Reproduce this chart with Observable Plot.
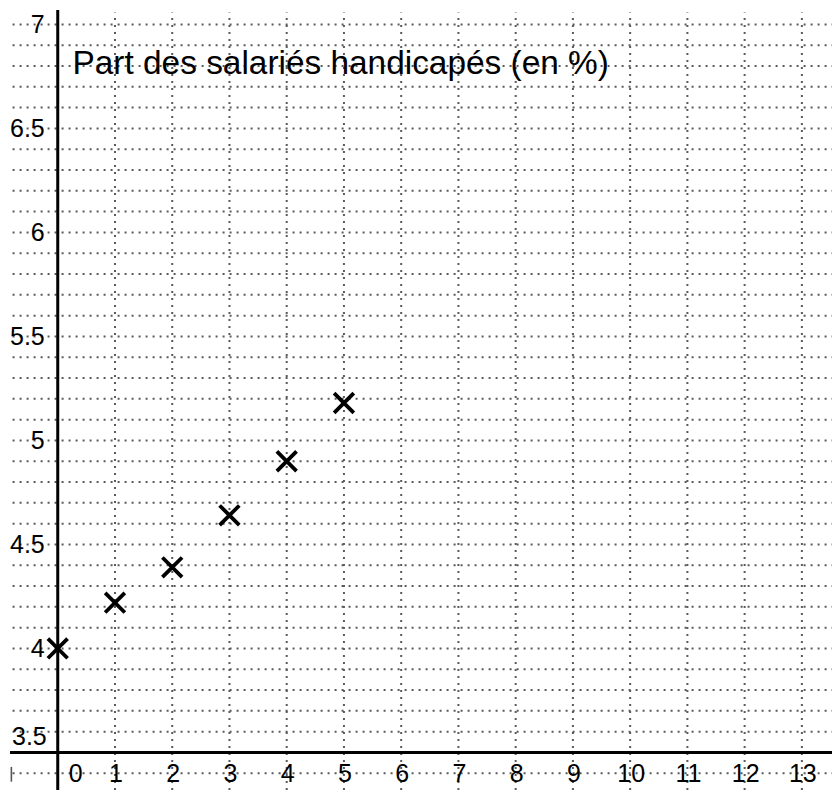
<!DOCTYPE html>
<html>
<head>
<meta charset="utf-8">
<script src="https://cdn.jsdelivr.net/npm/d3@7"></script>
<script src="https://cdn.jsdelivr.net/npm/@observablehq/plot@0.6"></script>
<style>
  html, body { margin: 0; padding: 0; background: #ffffff; }
  svg { display: block; }
</style>
</head>
<body>
<div id="chart"></div>
<script>
// ---- Data ----
const titleText = "Part des salariés handicapés (en %)";
const years = [0, 1, 2, 3, 4, 5];
const shares = [4.0, 4.22, 4.39, 4.64, 4.90, 5.18];

// ---- Ticks / grid ----
const xTicks = [0, 1, 2, 3, 4, 5, 6, 7, 8, 9, 10, 11, 12, 13];
const xTickLabels = ["0", "1", "2", "3", "4", "5", "6", "7", "8", "9", "10", "11", "12", "13"];
const yTicks = [3.5, 4, 4.5, 5, 5.5, 6, 6.5, 7];
const yTickLabels = ["3.5", "4", "4.5", "5", "5.5", "6", "6.5", "7"];
const yGrid = [3.4, 3.5, 3.6, 3.7, 3.8, 3.9, 4.0, 4.1, 4.2, 4.3, 4.4, 4.5, 4.6, 4.7, 4.8, 4.9,
               5.0, 5.1, 5.2, 5.3, 5.4, 5.5, 5.6, 5.7, 5.8, 5.9, 6.0, 6.1, 6.2, 6.3, 6.4, 6.5,
               6.6, 6.7, 6.8, 6.9, 7.0];

const points = years.map((x, i) => ({x, y: shares[i]}));
const xLab = xTicks.map((v, i) => ({v, label: xTickLabels[i]}));
const yLab = yTicks.map((v, i) => ({v, label: yTickLabels[i]}));

const X0 = -1.0, X1 = 13.535;
const Y0 = 3.317, Y1 = 7.115;
const gridCol = "#5a5a5a";
const dots = "2,5";
const font = "'Liberation Sans', Arial, Helvetica, sans-serif";

const chart = Plot.plot({
  width: 832,
  height: 790,
  margin: 0,
  x: {domain: [X0, X1], axis: null},
  y: {domain: [Y0, Y1], axis: null},
  style: {background: "#ffffff", fontFamily: font, overflow: "visible"},
  marks: [
    // horizontal dotted grid
    Plot.ruleY(yGrid, {y: d => d, x1: -0.78, x2: X1, stroke: gridCol, strokeWidth: 2, strokeDasharray: dots}),
    // vertical dotted grid
    Plot.ruleX(xTicks.filter(d => d !== 0), {x: d => d, y1: Y0, y2: 7.055, stroke: gridCol, strokeWidth: 2, strokeDasharray: dots}),
    // small end tick at left bottom
    Plot.ruleX([-0.81], {x: d => d, y1: 3.357, y2: 3.428, stroke: "#555", strokeWidth: 1.6}),
    // axes
    Plot.ruleY([3.5], {y: d => d, x1: -0.825, x2: X1, stroke: "#000", strokeWidth: 3}),
    Plot.ruleX([0], {x: d => d, y1: Y0, y2: 7.067, stroke: "#000", strokeWidth: 3}),
    // y tick labels
    Plot.text(yLab.filter(d => d.v !== 3.5), {x: () => 0, y: "v", text: "label", textAnchor: "end", dx: -13, dy: 1, fontSize: 25, fill: "#000"}),
    Plot.text(yLab.filter(d => d.v === 3.5), {x: () => 0, y: "v", text: "label", textAnchor: "end", dx: -11, dy: -15, fontSize: 25, fill: "#000"}),
    // x tick labels
    Plot.text(xLab.filter(d => d.v !== 0), {x: "v", y: () => 3.5, text: "label", dy: 22, dx: 1, fontSize: 25, fill: "#000"}),
    Plot.text(xLab.filter(d => d.v === 0), {x: "v", y: () => 3.5, text: "label", dy: 22, dx: 18, fontSize: 25, fill: "#000"}),
    // title
    Plot.text([titleText], {frameAnchor: "top-left", text: d => d, dx: 72, dy: 50, lineAnchor: "top", textAnchor: "start", fontSize: 33.4, fill: "#000"}),
    // data crosses
    Plot.dot(points, {x: "x", y: "y", symbol: "times", r: 9, stroke: "#000", strokeWidth: 3.8})
  ]
});
document.getElementById("chart").appendChild(chart);
</script>
</body>
</html>
